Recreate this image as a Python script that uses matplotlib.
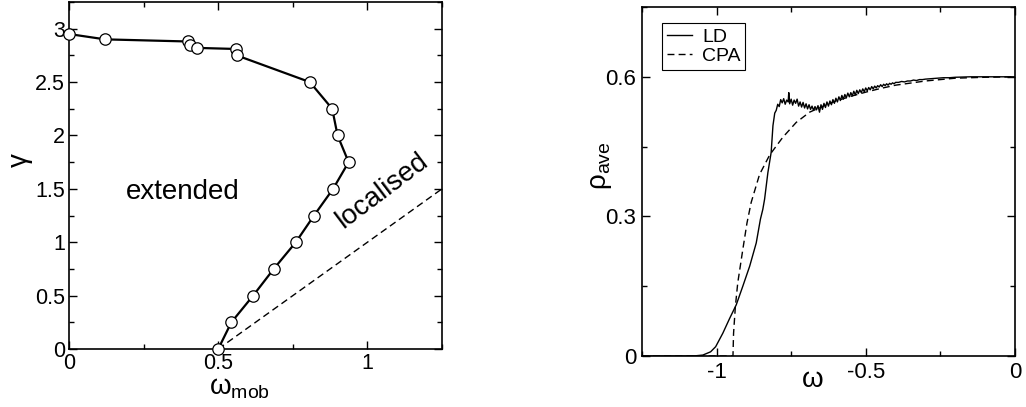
import matplotlib
matplotlib.use("Agg")
import matplotlib.pyplot as plt
from matplotlib.ticker import MultipleLocator

plt.rcParams['font.family'] = ['Liberation Sans', 'DejaVu Sans']
plt.rcParams['mathtext.default'] = 'regular'
plt.rcParams['axes.unicode_minus'] = False

# left panel: mobility edge
w_mob = [0.0, 0.121, 0.40, 0.407, 0.429, 0.56, 0.562, 0.807, 0.882, 0.90,
         0.937, 0.885, 0.821, 0.76, 0.686, 0.617, 0.544, 0.50]
gamma = [2.95, 2.90, 2.88, 2.85, 2.82, 2.81, 2.75, 2.50, 2.25, 2.00,
         1.75, 1.50, 1.25, 1.00, 0.75, 0.50, 0.25, 0.0]
band_w = [0.5, 1.25]
band_g = [0.0, 1.5]

# right panel: average DOS
ld_w = [-1.25, -1.10, -1.07, -1.046, -1.02, -1.003, -0.979, -0.956, -0.934, -0.912,
        -0.889, -0.867, -0.853, -0.845, -0.839, -0.828, -0.817, -0.811, -0.805,
        -0.800, -0.795, -0.790, -0.785, -0.780, -0.775, -0.770, -0.765, -0.760, -0.758,
        -0.755, -0.750, -0.745, -0.740, -0.735, -0.730, -0.725, -0.720, -0.715, -0.710,
        -0.705, -0.700, -0.695, -0.690, -0.685, -0.680, -0.675, -0.670, -0.665, -0.660,
        -0.655, -0.650, -0.645, -0.640, -0.635, -0.630, -0.625, -0.620, -0.615, -0.610,
        -0.605, -0.600, -0.595, -0.590, -0.585, -0.580, -0.575, -0.570, -0.565, -0.560,
        -0.555, -0.550, -0.545, -0.540, -0.535, -0.530, -0.525, -0.520, -0.515, -0.510,
        -0.505, -0.500, -0.495, -0.490, -0.485, -0.480, -0.475, -0.470, -0.465, -0.460,
        -0.455, -0.450, -0.445, -0.440, -0.435, -0.430, -0.425, -0.420, -0.415, -0.410,
        -0.405, -0.400, -0.390, -0.380, -0.370, -0.360, -0.350, -0.340, -0.330, -0.320,
        -0.310, -0.300, -0.280, -0.260, -0.240, -0.220, -0.200, -0.150, -0.100, -0.050, 0.0]
ld_rho = [0.0, 0.0, 0.0005, 0.002, 0.009, 0.020, 0.049, 0.081, 0.110, 0.150,
          0.193, 0.243, 0.294, 0.315, 0.337, 0.394, 0.4375, 0.495, 0.522,
          0.528, 0.541, 0.536, 0.551, 0.544, 0.553, 0.541, 0.550, 0.546, 0.566,
          0.542, 0.552, 0.539, 0.550, 0.543, 0.552, 0.537, 0.546, 0.535, 0.545,
          0.533, 0.542, 0.531, 0.540, 0.530, 0.537, 0.528, 0.536, 0.529, 0.538,
          0.524, 0.540, 0.530, 0.543, 0.534, 0.546, 0.537, 0.548, 0.540, 0.551,
          0.543, 0.554, 0.546, 0.557, 0.549, 0.560, 0.552, 0.562, 0.555, 0.565,
          0.557, 0.566, 0.559, 0.569, 0.561, 0.571, 0.564, 0.572, 0.566, 0.574,
          0.568, 0.576, 0.570, 0.577, 0.572, 0.579, 0.574, 0.580, 0.576, 0.581,
          0.578, 0.583, 0.579, 0.584, 0.581, 0.585, 0.582, 0.586, 0.584, 0.587,
          0.585, 0.588, 0.588, 0.590, 0.589, 0.591, 0.591, 0.593, 0.592, 0.594,
          0.594, 0.595, 0.596, 0.597, 0.598, 0.598, 0.599, 0.600, 0.600, 0.600, 0.600]
cpa_w = [-1.25, -0.945, -0.943, -0.937, -0.929, -0.912, -0.898, -0.884, -0.856, -0.822,
         -0.778, -0.733, -0.688, -0.65, -0.60, -0.55, -0.50, -0.45, -0.40, -0.30,
         -0.20, -0.10, 0.0]
cpa_rho = [0.0, 0.0, 0.049, 0.106, 0.157, 0.229, 0.286, 0.330, 0.390, 0.432,
           0.470, 0.502, 0.524, 0.535, 0.548, 0.558, 0.567, 0.575, 0.582, 0.591,
           0.597, 0.599, 0.600]

left_xticks = [0, 0.5, 1]
left_xlabels = ['0', '0.5', '1']
left_yticks = [0, 0.5, 1, 1.5, 2, 2.5, 3]
left_ylabels = ['0', '0.5', '1', '1.5', '2', '2.5', '3']
right_xticks = [-1, -0.5, 0]
right_xlabels = ['-1', '-0.5', '0']
right_yticks = [0, 0.3, 0.6]
right_ylabels = ['0', '0.3', '0.6']

fig = plt.figure(figsize=(10.26, 4.07), dpi=100)
ax1 = fig.add_axes([0.0673, 0.1425, 0.3635, 0.8526])
ax2 = fig.add_axes([0.6257, 0.1253, 0.3635, 0.8575])

for ax in (ax1, ax2):
    for s in ax.spines.values():
        s.set_linewidth(1.2)
    ax.tick_params(which='both', direction='in', top=True, right=True, width=1.0)
    ax.tick_params(which='major', length=5.5, labelsize=15.5, pad=3)
    ax.tick_params(which='minor', length=3.5)

# left
ax1.plot(band_w, band_g, color='black', lw=1.0, dashes=(5, 3))
ax1.plot(w_mob, gamma, color='black', lw=1.6, marker='o', ms=8.2,
         mfc='white', mec='black', mew=0.9, zorder=3, clip_on=False)
ax1.set_xlim(0, 1.25)
ax1.set_ylim(0, 3.25)
ax1.set_xticks(left_xticks)
ax1.set_xticklabels(left_xlabels)
ax1.set_yticks(left_yticks)
ax1.set_yticklabels(left_ylabels)
ax1.xaxis.set_minor_locator(MultipleLocator(0.25))
ax1.yaxis.set_minor_locator(MultipleLocator(0.25))
ax1.text(0.38, 1.47, 'extended', fontsize=20, ha='center', va='center')
ax1.text(1.05, 1.48, 'localised', fontsize=20, ha='center', va='center', rotation=37)
ax1.text(-0.131, 0.545, 'γ', fontsize=20, rotation=90, ha='center', va='center',
         transform=ax1.transAxes)
ax1.text(0.458, -0.112, '$ω_{mob}$', fontsize=20, ha='center', va='center',
         transform=ax1.transAxes)

# right
ax2.plot(ld_w, ld_rho, color='black', lw=1.0, label='LD')
ax2.plot(cpa_w, cpa_rho, color='black', lw=1.0, dashes=(5, 3), label='CPA')
ax2.set_xlim(-1.25, 0)
ax2.set_ylim(0, 0.75)
ax2.set_xticks(right_xticks)
ax2.set_xticklabels(right_xlabels)
ax2.set_yticks(right_yticks)
ax2.set_yticklabels(right_ylabels)
ax2.xaxis.set_minor_locator(MultipleLocator(0.25))
ax2.yaxis.set_minor_locator(MultipleLocator(0.15))
ax2.tick_params(which='major', labelsize=16, pad=4)
ax2.text(-0.11, 0.544, r'$ρ_{ave}$', fontsize=20, rotation=90, ha='center', va='center',
         transform=ax2.transAxes)
ax2.text(0.458, -0.07, 'ω', fontsize=20, ha='center', va='center',
         transform=ax2.transAxes)
leg = ax2.legend(loc='upper left', bbox_to_anchor=(0.054, 0.954), borderaxespad=0,
                 fontsize=14, handlelength=1.3, handletextpad=0.5, labelspacing=0.1,
                 borderpad=0.25, fancybox=False, framealpha=1)
leg.get_frame().set_edgecolor('black')
leg.get_frame().set_linewidth(0.8)

fig.savefig('out.png', dpi=100)
